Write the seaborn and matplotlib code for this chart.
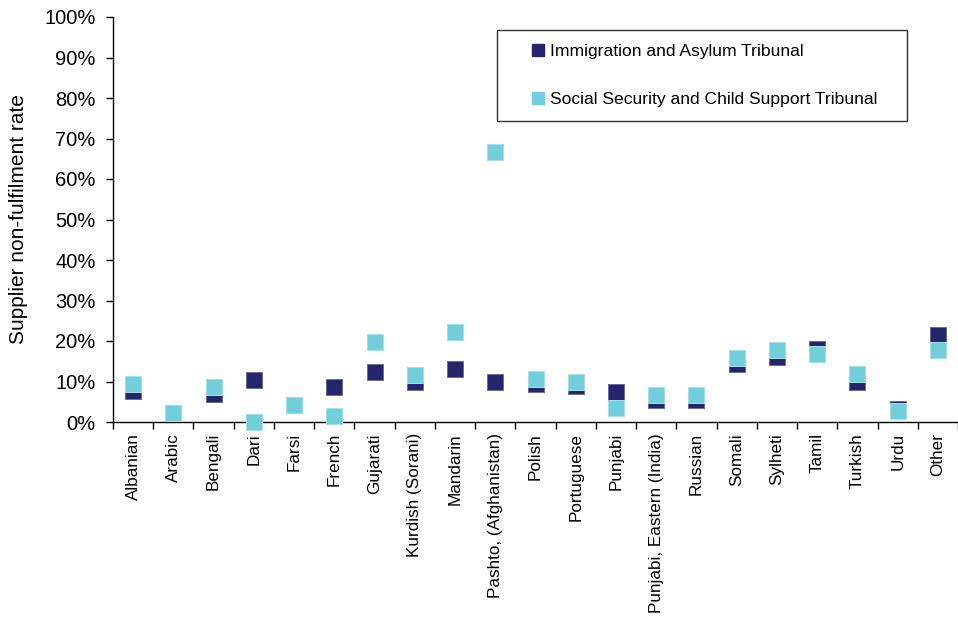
import numpy as np
import pandas as pd
import matplotlib
matplotlib.use("Agg")
import matplotlib.pyplot as plt
from matplotlib.ticker import PercentFormatter
import seaborn as sns

languages = [
    "Albanian", "Arabic", "Bengali", "Dari", "Farsi", "French", "Gujarati",
    "Kurdish (Sorani)", "Mandarin", "Pashto, (Afghanistan)", "Polish",
    "Portuguese", "Punjabi", "Punjabi, Eastern (India)", "Russian", "Somali",
    "Sylheti", "Tamil", "Turkish", "Urdu", "Other",
]
immigration_asylum = [
    0.077, 0.021, 0.070, 0.104, 0.042, 0.086, 0.123, 0.099, 0.132, 0.100,
    0.094, 0.090, 0.075, 0.054, 0.054, 0.144, 0.160, 0.181, 0.100, 0.031, 0.215,
]
social_security = [
    0.095, 0.022, 0.086, 0.000, 0.042, 0.015, 0.198, 0.116, 0.222, 0.667,
    0.107, 0.099, 0.035, 0.067, 0.067, 0.157, 0.177, 0.169, 0.119, 0.027, 0.177,
]
series_names = ["Immigration and Asylum Tribunal",
                "Social Security and Child Support Tribunal"]
series_colors = ["#25256e", "#70cfdb"]
edge_colors = ["#6a6a98", "#a8dfe8"]
y_ticks = np.arange(0, 1.01, 0.1)

df = pd.concat([
    pd.DataFrame({"language": languages, "rate": immigration_asylum,
                  "tribunal": series_names[0]}),
    pd.DataFrame({"language": languages, "rate": social_security,
                  "tribunal": series_names[1]}),
], ignore_index=True)

sns.set_theme(style="white")
plt.rcParams["font.family"] = ["Liberation Sans", "DejaVu Sans"]

W, H = 958, 621
fig = plt.figure(figsize=(W / 100, H / 100), dpi=100)
ax_left, ax_right = 113 / W, 958 / W
ax_bottom, ax_top = 1 - 422 / H, 1 - 17 / H
ax = fig.add_axes([ax_left, ax_bottom, ax_right - ax_left, ax_top - ax_bottom])

# Immigration series first, Social Security drawn on top of it
for name, color, ec in zip(series_names, series_colors, edge_colors):
    sub = df[df["tribunal"] == name]
    sns.stripplot(data=sub, x="language", y="rate", order=languages,
                  jitter=False, marker="s", size=11.5, color=color,
                  edgecolor=ec, linewidth=0.7, ax=ax,
                  clip_on=False, zorder=3)

n = len(languages)
ax.set_xlim(-0.5, -0.5 + 845 / 40.6)
ax.set_ylim(0, 1.0)
ax.set_yticks(y_ticks)
ax.yaxis.set_major_formatter(PercentFormatter(1.0, decimals=0))
ax.set_xticks(np.arange(n))
ax.set_xticklabels(languages, rotation=90, fontsize=12.3)
ax.set_xticks(np.arange(-0.5, n, 1.0), minor=True)
ax.tick_params(axis="x", which="major", length=0, pad=8)
ax.tick_params(axis="x", which="minor", length=5, width=1, color="black",
               direction="out", bottom=True)
ax.tick_params(axis="y", which="major", length=5, width=1, color="black",
               direction="out", left=True, labelsize=14.5, pad=7.5)
for lab in ax.get_yticklabels() + ax.get_xticklabels():
    lab.set_color("black")

ax.set_xlabel("")
ax.set_ylabel("Supplier non-fulfilment rate", fontsize=15, color="black")
ax.yaxis.set_label_coords(-(113 - 28) / 845, 0.5)

for side in ("top", "right"):
    ax.spines[side].set_visible(False)
for side in ("left", "bottom"):
    ax.spines[side].set_color("black")
    ax.spines[side].set_linewidth(1.0)

leg_handles = [plt.Line2D([], [], linestyle="", marker="s", markersize=9,
                          markerfacecolor=c, markeredgecolor=c)
               for c in series_colors]
leg_box = (497 / W, 1 - 122 / H, 410 / W, 92 / H)
leg = fig.legend(leg_handles, series_names, loc="upper left",
                 bbox_to_anchor=leg_box, mode="expand",
                 frameon=True, fancybox=False, shadow=False,
                 fontsize=12.6, labelspacing=1.85, handletextpad=-0.9,
                 handlelength=3.14, borderpad=0.8, borderaxespad=0)
leg.get_frame().set_edgecolor("black")
leg.get_frame().set_linewidth(1.0)
for t in leg.get_texts():
    t.set_color("black")

fig.savefig("out.png", dpi=100)
